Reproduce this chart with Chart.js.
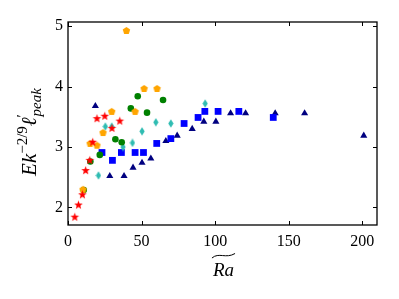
<!DOCTYPE html>
<html>
<head>
<meta charset="utf-8">
<script src="https://cdn.jsdelivr.net/npm/chart.js@4.4.1/dist/chart.umd.min.js"></script>
<style>
  html, body { margin: 0; padding: 0; background: #fff; }
  #wrap { width: 399px; height: 299px; }
</style>
</head>
<body>
<div id="wrap"><canvas id="chart"></canvas></div>
<script>
// values
const starRa = [4.6, 7.1, 9.8, 12.0, 14.8, 16.8, 19.7, 25.0, 29.9, 35.2];
const starL  = [1.84, 2.04, 2.21, 2.61, 2.78, 3.08, 3.47, 3.51, 3.31, 3.43];

const pentRa = [10.2, 15.0, 19.7, 23.8, 29.7, 39.7, 45.6, 51.7, 60.5];
const pentL  = [2.30, 3.06, 3.03, 3.24, 3.59, 4.93, 3.59, 3.97, 3.97];

const circRa = [10.7, 15.2, 21.6, 32.2, 36.5, 42.7, 47.4, 53.7, 64.6];
const circL  = [2.29, 2.76, 2.87, 3.13, 3.08, 3.64, 3.84, 3.57, 3.78];

const diamRa = [20.7, 25.4, 29.7, 37.4, 43.8, 50.3, 59.7, 69.9, 93.2];
const diamL  = [2.53, 3.34, 3.34, 3.00, 3.07, 3.26, 3.41, 3.39, 3.72];

const sqRa = [23.1, 30.2, 36.3, 45.6, 51.3, 60.3, 69.9, 78.9, 88.4, 93.0, 102.0, 116.1, 139.5];
const sqL  = [2.91, 2.78, 2.91, 2.91, 2.91, 3.06, 3.14, 3.39, 3.49, 3.59, 3.59, 3.59, 3.49];

const triRa = [18.6, 28.4, 38.1, 44.2, 50.3, 56.3, 66.5, 74.2, 84.4, 92.3, 100.5, 110.5, 120.7, 140.8, 160.8, 201.0];
const triL  = [3.68, 2.52, 2.52, 2.66, 2.74, 2.81, 3.10, 3.19, 3.30, 3.42, 3.42, 3.56, 3.56, 3.56, 3.56, 3.19];

const xTicks = [0, 50, 100, 150, 200];
const yTicks = [2, 3, 4, 5];

const serif = '"Liberation Serif", "DejaVu Serif", serif';

function pts(xs, ys) {
    return xs.map((v, i) => ({ x: v, y: ys[i] }));
}

// small canvases for marker shapes Chart.js doesn't have
function marker(w, h, color, path) {
    const c = document.createElement('canvas');
    c.width = w; c.height = h;
    const g = c.getContext('2d');
    g.fillStyle = color;
    g.beginPath();
    path(g, w / 2, h / 2);
    g.closePath();
    g.fill();
    return c;
}

const starImg = marker(11, 11, '#ff0000', (g, cx, cy) => {
    const ro = 4.6, ri = 1.9;
    for (let i = 0; i < 10; i++) {
        const r = i % 2 ? ri : ro;
        const a = -Math.PI / 2 + i * Math.PI / 5;
        g.lineTo(cx + r * Math.cos(a), cy + r * Math.sin(a));
    }
});
const pentImg = marker(9, 9, '#ffa500', (g, cx, cy) => {
    const r = 3.9;
    for (let i = 0; i < 5; i++) {
        const a = -Math.PI / 2 + i * 2 * Math.PI / 5;
        g.lineTo(cx + r * Math.cos(a), cy + r * Math.sin(a) + 0.3);
    }
});
const diamImg = marker(6, 9, '#2fbcb2', (g, cx, cy) => {
    g.moveTo(cx, cy - 4.2);
    g.lineTo(cx + 2.6, cy);
    g.lineTo(cx, cy + 4.2);
    g.lineTo(cx - 2.6, cy);
});

// box, inward ticks on all sides, axis titles
const framePlugin = {
    id: 'frame',
    afterDraw(chart) {
        const { ctx, chartArea: a, scales } = chart;
        ctx.save();
        ctx.strokeStyle = '#000';
        ctx.lineWidth = 1.3;
        ctx.strokeRect(a.left, a.top, a.width, a.height);
        ctx.lineWidth = 1;
        ctx.beginPath();
        xTicks.forEach(v => {
            const px = Math.round(scales.x.getPixelForValue(v)) + 0.5;
            ctx.moveTo(px, a.bottom); ctx.lineTo(px, a.bottom - 4);
            ctx.moveTo(px, a.top); ctx.lineTo(px, a.top + 4);
        });
        yTicks.forEach(v => {
            const py = Math.round(scales.y.getPixelForValue(v)) + 0.5;
            ctx.moveTo(a.left, py); ctx.lineTo(a.left + 4, py);
            ctx.moveTo(a.right, py); ctx.lineTo(a.right - 4, py);
        });
        ctx.stroke();

        ctx.fillStyle = '#000';
        ctx.textBaseline = 'alphabetic';

        // x title: Ra with a wide tilde
        ctx.font = 'italic 19px ' + serif;
        ctx.textAlign = 'center';
        const cx = (a.left + a.right) / 2 + 1;
        ctx.fillText('Ra', cx, 276);
        const tw = ctx.measureText('Ra').width;
        ctx.beginPath();
        ctx.lineWidth = 1;
        const x0 = cx - tw / 2 - 1, x1 = cx + tw / 2 + 1;
        ctx.moveTo(x0, 258);
        ctx.bezierCurveTo(x0 + (x1 - x0) * 0.3, 252, x0 + (x1 - x0) * 0.6, 259, x1, 253.5);
        ctx.stroke();

        // y title: Ek^{-2/9} l'_peak
        ctx.translate(36, 132);
        ctx.rotate(-Math.PI / 2);
        ctx.textAlign = 'left';
        const big = 'italic 21px ' + serif;
        const sup = '15px ' + serif;
        const sub = 'italic 15px ' + serif;
        const parts = [
            { t: 'Ek', f: big, dy: 0 },
            { t: '\u22122/9', f: sup, dy: -9 },
            { t: '\u2113', f: big, dy: 0 }
        ];
        let total = 0;
        parts.forEach(p => { ctx.font = p.f; p.w = ctx.measureText(p.t).width; total += p.w; });
        ctx.font = sub;
        const subW = ctx.measureText('peak').width;
        total += subW + 1;
        let x = -total / 2;
        parts.forEach(p => {
            ctx.font = p.f;
            ctx.fillText(p.t, x, p.dy);
            x += p.w;
        });
        ctx.font = sup;
        ctx.fillText('\u2032', x, -9);
        ctx.font = sub;
        ctx.fillText('peak', x + 1, 5);
        ctx.restore();
    }
};

function ds(label, data, style, color, radius) {
    return {
        label: label,
        data: data,
        pointStyle: style,
        pointRadius: radius,
        pointHoverRadius: radius,
        backgroundColor: color,
        borderColor: color,
        borderWidth: 0,
        showLine: false
    };
}

new Chart(document.getElementById('chart'), {
    type: 'scatter',
    data: {
        datasets: [
            ds('stars', pts(starRa, starL), starImg, '#ff0000', 5),
            ds('pentagons', pts(pentRa, pentL), pentImg, '#ffa500', 4),
            ds('circles', pts(circRa, circL), 'circle', '#008000', 3.3),
            ds('diamonds', pts(diamRa, diamL), diamImg, '#2fbcb2', 4),
            ds('squares', pts(sqRa, sqL), 'rect', '#0000ff', 4.8),
            ds('triangles', pts(triRa, triL), 'triangle', '#000080', 4.1)
        ]
    },
    options: {
        responsive: true,
        maintainAspectRatio: false,
        animation: false,
        events: [],
        layout: { padding: { left: 0, top: 22, right: 22, bottom: 0 } },
        plugins: {
            legend: { display: false },
            tooltip: { enabled: false }
        },
        scales: {
            x: {
                type: 'linear',
                min: 0,
                max: 210,
                grid: { display: false, drawTicks: false },
                border: { display: false },
                afterBuildTicks: s => { s.ticks = xTicks.map(v => ({ value: v })); },
                afterFit: s => { s.height = 74; },
                ticks: { padding: 7, color: '#000', font: { family: serif, size: 16 } }
            },
            y: {
                type: 'linear',
                min: 1.71,
                max: 5.07,
                grid: { display: false, drawTicks: false },
                border: { display: false },
                afterBuildTicks: s => { s.ticks = yTicks.map(v => ({ value: v })); },
                afterFit: s => { s.width = 68; },
                ticks: { padding: 5, color: '#000', font: { family: serif, size: 16 } }
            }
        }
    },
    plugins: [framePlugin]
});
</script>
</body>
</html>
